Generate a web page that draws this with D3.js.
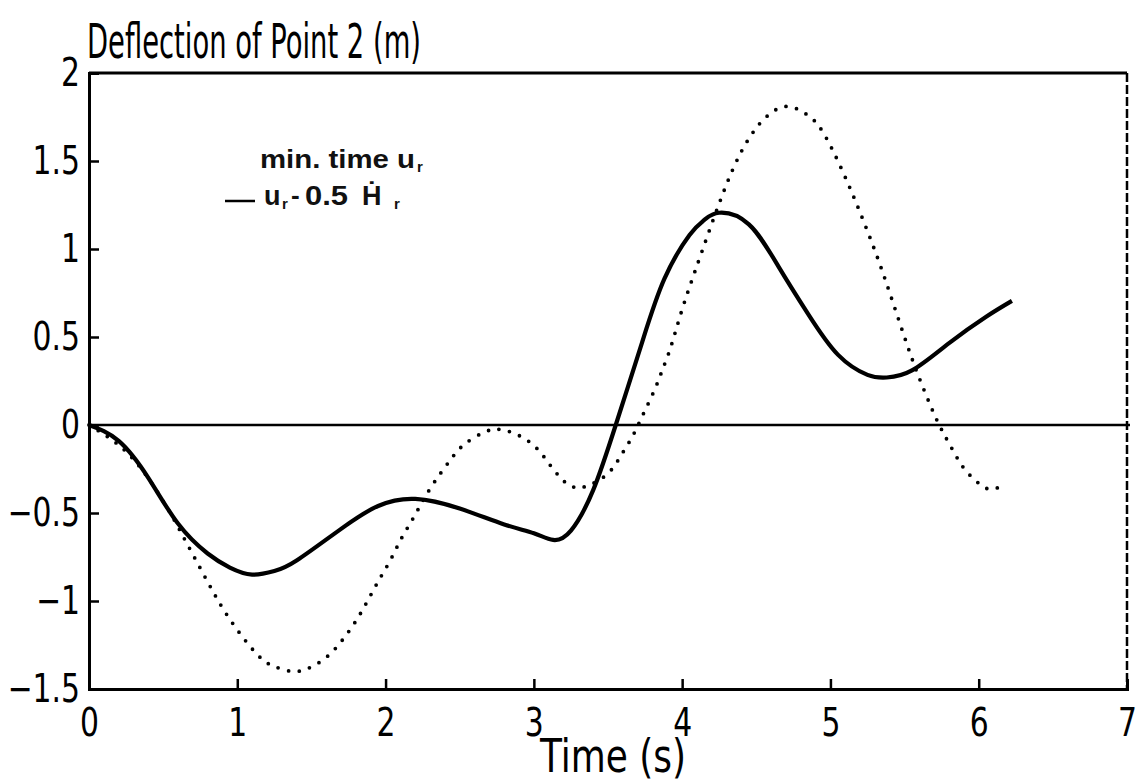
<!DOCTYPE html>
<html><head><meta charset="utf-8">
<script src="https://cdn.jsdelivr.net/npm/d3@7"></script>
<style>
html,body{margin:0;padding:0;background:#fff;}
svg{display:block;}
</style></head>
<body>
<svg id="chart" width="1136" height="783"></svg>
<script>
// ---- data ----
const xTicks = [0, 1, 2, 3, 4, 5, 6, 7];
const yTicks = [-1.5, -1, -0.5, 0, 0.5, 1, 1.5, 2];
const yTickLabels = ["\u22121.5", "\u22121", "\u22120.5", "0", "0.5", "1", "1.5", "2"];

// solid: u_r - 0.5 H_r
const solidT = [0,0.2,0.4,0.6,0.8,0.95,1.1,1.25,1.4,1.7,1.95,2.2,2.5,2.8,3.0,3.13,3.25,3.4,3.556,3.73,3.88,4.05,4.15,4.25,4.45,4.65,4.85,5.05,5.25,5.38,5.55,5.8,6.05,6.224];
const solidV = [0,-0.09,-0.3,-0.56,-0.73,-0.81,-0.85,-0.83,-0.77,-0.59,-0.46,-0.42,-0.475,-0.565,-0.615,-0.653,-0.6,-0.37,0.01,0.47,0.83,1.08,1.165,1.206,1.14,0.9,0.63,0.4,0.285,0.27,0.31,0.465,0.615,0.705];

// dotted: min. time u_r
const dotT = [0,0.209,0.389,0.548,0.636,0.78,0.939,1.13,1.253,1.37,1.478,1.606,1.714,1.804,1.882,1.956,2.033,2.107,2.186,2.298,2.433,2.534,2.668,2.77,2.893,3.017,3.118,3.219,3.297,3.376,3.5,3.59,3.668,3.735,3.814,3.87,3.926,4.005,4.129,4.32,4.466,4.567,4.697,4.836,4.948,5.083,5.207,5.319,5.42,5.52,5.6,5.69,5.757,5.83,5.914,6.03,6.1,6.177];
const dotV = [0,-0.12,-0.29,-0.5,-0.635,-0.86,-1.09,-1.3,-1.373,-1.4,-1.383,-1.316,-1.216,-1.108,-0.994,-0.88,-0.767,-0.644,-0.53,-0.365,-0.203,-0.108,-0.04,-0.025,-0.057,-0.13,-0.237,-0.331,-0.356,-0.341,-0.275,-0.17,-0.06,0.057,0.2,0.32,0.45,0.67,0.975,1.41,1.648,1.75,1.81,1.767,1.666,1.44,1.193,0.947,0.7,0.449,0.265,0.08,-0.038,-0.15,-0.26,-0.35,-0.362,-0.347];

// ---- layout ----
const svg = d3.select("#chart");
const x = d3.scaleLinear().domain([0, 7]).range([89, 1127]);
const y = d3.scaleLinear().domain([-1.5, 2]).range([689, 73]);
const fontNarrow = '"Liberation Sans Narrow","DejaVu Sans Condensed","Liberation Sans",Arial,sans-serif';

function narrow(sel, f) {
  sel.each(function () {
    const w = this.getComputedTextLength();
    d3.select(this).attr("textLength", w * f).attr("lengthAdjust", "spacingAndGlyphs");
  });
}

// frame: top and right
svg.append("line").attr("x1", x(0)).attr("x2", x(7)).attr("y1", y(2)).attr("y2", y(2))
  .attr("stroke", "#000").attr("stroke-width", 3);
svg.append("line").attr("x1", x(7)).attr("x2", x(7)).attr("y1", y(2)).attr("y2", y(-1.5))
  .attr("stroke", "#000").attr("stroke-width", 2.5).attr("stroke-dasharray", "9 3");

// zero line
svg.append("line").attr("x1", x(0)).attr("x2", x(7) + 3).attr("y1", y(0)).attr("y2", y(0))
  .attr("stroke", "#000").attr("stroke-width", 2.5);

// axes
const gx = svg.append("g").attr("transform", `translate(0,${y(-1.5)})`)
  .call(d3.axisBottom(x).tickValues(xTicks).tickSize(-10).tickPadding(19).tickFormat(d3.format("d")));
const gy = svg.append("g").attr("transform", `translate(${x(0)},0)`)
  .call(d3.axisLeft(y).tickValues(yTicks).tickSize(-10).tickPadding(9).tickFormat((d, i) => yTickLabels[i]));
[gx, gy].forEach(g => {
  g.select(".domain").attr("stroke", "#000").attr("stroke-width", 3);
  g.selectAll(".tick line").attr("stroke", "#000").attr("stroke-width", 2.5);
  g.selectAll("text").attr("font-size", 39).attr("font-family", fontNarrow).attr("fill", "#000");
});
gx.selectAll("text").attr("dy", "0.72em");
narrow(gx.selectAll("text"), 0.85);
narrow(gy.selectAll("text"), 0.85);

// curves
const line = d3.line().x(d => x(d[0])).y(d => y(d[1])).curve(d3.curveNatural);
svg.append("path").datum(dotT.map((t, i) => [t, dotV[i]]))
  .attr("d", line).attr("fill", "none").attr("stroke", "#000")
  .attr("stroke-width", 3.8).attr("stroke-linecap", "round").attr("stroke-dasharray", "0 10.8");
svg.append("path").datum(solidT.map((t, i) => [t, solidV[i]]))
  .attr("d", line).attr("fill", "none").attr("stroke", "#000")
  .attr("stroke-width", 4.2).attr("stroke-linejoin", "round");

// title
svg.append("text").attr("x", 87).attr("y", 58).attr("font-family", fontNarrow)
  .attr("font-size", 48).attr("textLength", 334).attr("lengthAdjust", "spacingAndGlyphs")
  .text("Deflection of Point 2 (m)");

// x-axis title
svg.append("text").attr("x", 540).attr("y", 772).attr("font-family", fontNarrow)
  .attr("font-size", 46).attr("textLength", 146).attr("lengthAdjust", "spacingAndGlyphs")
  .text("Time (s)");

// legend
const lf = 'Arial,"Liberation Sans",Helvetica,sans-serif';
function lt(xp, yp, size, txt, len) {
  const t = svg.append("text").attr("x", xp).attr("y", yp).attr("font-family", lf)
    .attr("font-size", size).attr("font-weight", "bold").attr("fill", "#111").text(txt);
  if (len) t.attr("textLength", len).attr("lengthAdjust", "spacingAndGlyphs");
  return t;
}
lt(260, 168, 25, "min. time u", 155);
lt(417, 172, 15, "r");
svg.append("line").attr("x1", 225).attr("x2", 255).attr("y1", 201).attr("y2", 201)
  .attr("stroke", "#000").attr("stroke-width", 2.5);
lt(264, 205, 27, "u");
lt(282, 209, 15, "r");
lt(291, 204, 26, "-");
lt(305, 205, 28, "0.5", 43);
lt(362, 205, 27, "\u1E22");
lt(394, 209, 15, "r");
</script>
</body></html>
